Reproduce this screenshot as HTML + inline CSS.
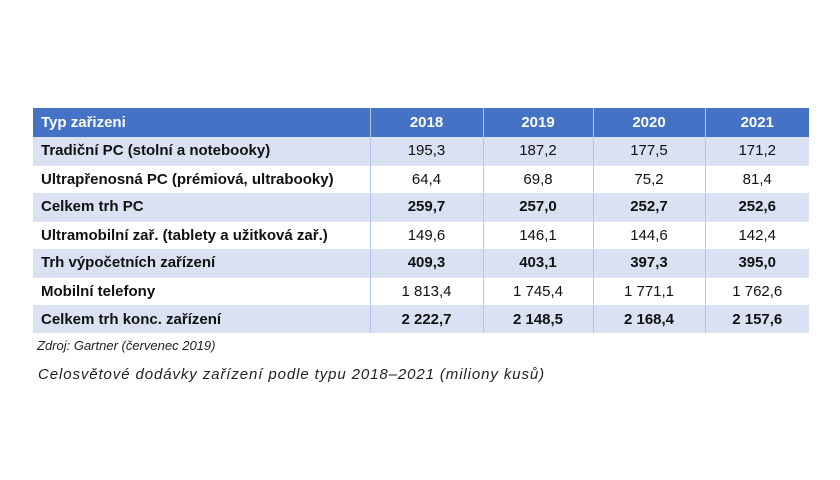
<!DOCTYPE html>
<html><head><meta charset="utf-8"><style>
body{margin:0;width:840px;height:480px;background:#fff;font-family:"Liberation Sans",sans-serif;position:relative;overflow:hidden}
table{position:absolute;left:33px;top:108px;border-collapse:collapse;table-layout:fixed;width:776px}
td,th{height:28px;padding:0 8px;font-size:15px;color:#111;border-right:1px solid #b4c6e7;box-sizing:border-box}
th{background:#4472c4;color:#fff;font-weight:bold;text-align:center;height:29px}
th:first-child{text-align:left}
td{text-align:center}
td:first-child{text-align:left}
tr.a td{background:#d9e1f2}
tr.b td{background:#fff;border-top:1px solid #e3e9f5}
tr.bold td{font-weight:bold}
td:last-child,th:last-child{border-right:none}
.src{position:absolute;left:37px;top:338px;font-size:13px;font-style:italic;color:#222}
.cap{position:absolute;left:38px;top:366px;font-size:15px;font-style:italic;color:#222;letter-spacing:0.9px}
</style></head><body>
<table>
<colgroup><col style="width:337px"><col style="width:113px"><col style="width:110px"><col style="width:112px"><col style="width:104px"></colgroup>
<tr><th>Typ zařizeni</th><th>2018</th><th>2019</th><th>2020</th><th>2021</th></tr>
<tr class="a"><td style="font-weight:bold">Tradiční PC (stolní a notebooky)</td><td>195,3</td><td>187,2</td><td>177,5</td><td>171,2</td></tr>
<tr class="b"><td style="font-weight:bold">Ultrapřenosná PC (prémiová, ultrabooky)</td><td>64,4</td><td>69,8</td><td>75,2</td><td>81,4</td></tr>
<tr class="a bold"><td>Celkem trh PC</td><td>259,7</td><td>257,0</td><td>252,7</td><td>252,6</td></tr>
<tr class="b"><td style="font-weight:bold">Ultramobilní zař. (tablety a užitková zař.)</td><td>149,6</td><td>146,1</td><td>144,6</td><td>142,4</td></tr>
<tr class="a bold"><td>Trh výpočetních zařízení</td><td>409,3</td><td>403,1</td><td>397,3</td><td>395,0</td></tr>
<tr class="b"><td style="font-weight:bold">Mobilní telefony</td><td>1 813,4</td><td>1 745,4</td><td>1 771,1</td><td>1 762,6</td></tr>
<tr class="a bold"><td>Celkem trh konc. zařízení</td><td>2 222,7</td><td>2 148,5</td><td>2 168,4</td><td>2 157,6</td></tr>
</table>
<div class="src">Zdroj: Gartner (červenec 2019)</div>
<div class="cap">Celosvětové dodávky zařízení podle typu 2018–2021 (miliony kusů)</div>
</body></html>
